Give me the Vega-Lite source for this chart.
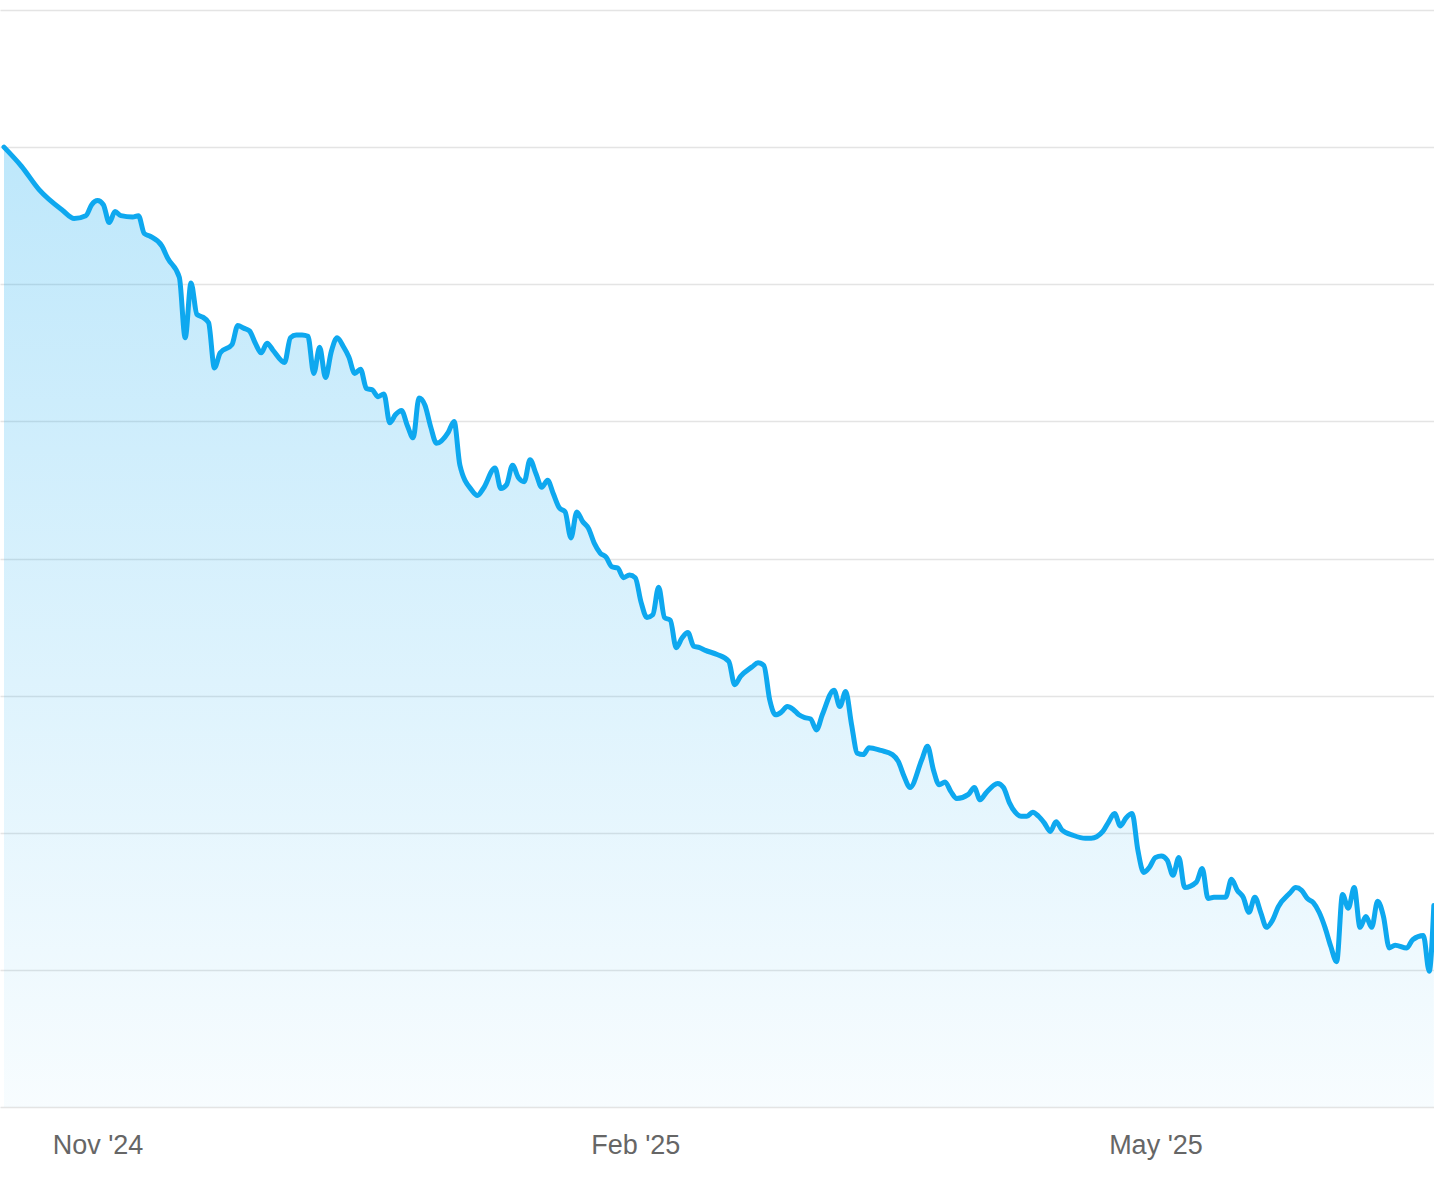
{
  "$schema": "https://vega.github.io/schema/vega-lite/v6.json",
  "width": 1434,
  "height": 1097,
  "autosize": {"type": "none"},
  "padding": {"left": 0, "top": 10, "right": 0, "bottom": 77},
  "background": "white",
  "config": {"view": {"stroke": null}},
  "data": {"values": [
    {"date": "2024-10-16", "value": 7.00},
    {"date": "2024-10-19", "value": 6.86},
    {"date": "2024-10-22", "value": 6.69},
    {"date": "2024-10-26", "value": 6.54},
    {"date": "2024-10-28", "value": 6.48},
    {"date": "2024-10-30", "value": 6.50},
    {"date": "2024-10-31", "value": 6.58},
    {"date": "2024-11-01", "value": 6.61},
    {"date": "2024-11-02", "value": 6.58},
    {"date": "2024-11-03", "value": 6.45},
    {"date": "2024-11-04", "value": 6.53},
    {"date": "2024-11-05", "value": 6.50},
    {"date": "2024-11-07", "value": 6.49},
    {"date": "2024-11-08", "value": 6.50},
    {"date": "2024-11-09", "value": 6.37},
    {"date": "2024-11-10", "value": 6.35},
    {"date": "2024-11-12", "value": 6.28},
    {"date": "2024-11-13", "value": 6.19},
    {"date": "2024-11-15", "value": 6.05},
    {"date": "2024-11-16", "value": 5.61},
    {"date": "2024-11-17", "value": 6.01},
    {"date": "2024-11-18", "value": 5.78},
    {"date": "2024-11-19", "value": 5.76},
    {"date": "2024-11-20", "value": 5.72},
    {"date": "2024-11-21", "value": 5.39},
    {"date": "2024-11-22", "value": 5.50},
    {"date": "2024-11-24", "value": 5.56},
    {"date": "2024-11-25", "value": 5.70},
    {"date": "2024-11-26", "value": 5.68},
    {"date": "2024-11-27", "value": 5.66},
    {"date": "2024-11-28", "value": 5.57},
    {"date": "2024-11-29", "value": 5.50},
    {"date": "2024-11-30", "value": 5.57},
    {"date": "2024-12-01", "value": 5.52},
    {"date": "2024-12-03", "value": 5.43},
    {"date": "2024-12-04", "value": 5.61},
    {"date": "2024-12-05", "value": 5.63},
    {"date": "2024-12-06", "value": 5.63},
    {"date": "2024-12-07", "value": 5.62},
    {"date": "2024-12-08", "value": 5.35},
    {"date": "2024-12-09", "value": 5.54},
    {"date": "2024-12-10", "value": 5.32},
    {"date": "2024-12-11", "value": 5.51},
    {"date": "2024-12-12", "value": 5.61},
    {"date": "2024-12-13", "value": 5.55},
    {"date": "2024-12-14", "value": 5.47},
    {"date": "2024-12-15", "value": 5.35},
    {"date": "2024-12-16", "value": 5.38},
    {"date": "2024-12-17", "value": 5.24},
    {"date": "2024-12-18", "value": 5.23},
    {"date": "2024-12-19", "value": 5.18},
    {"date": "2024-12-20", "value": 5.20},
    {"date": "2024-12-21", "value": 4.99},
    {"date": "2024-12-22", "value": 5.05},
    {"date": "2024-12-23", "value": 5.08},
    {"date": "2024-12-24", "value": 4.97},
    {"date": "2024-12-25", "value": 4.88},
    {"date": "2024-12-26", "value": 5.17},
    {"date": "2024-12-27", "value": 5.12},
    {"date": "2024-12-28", "value": 4.96},
    {"date": "2024-12-29", "value": 4.84},
    {"date": "2024-12-31", "value": 4.92},
    {"date": "2025-01-01", "value": 5.00},
    {"date": "2025-01-02", "value": 4.68},
    {"date": "2025-01-04", "value": 4.50},
    {"date": "2025-01-05", "value": 4.46},
    {"date": "2025-01-06", "value": 4.51},
    {"date": "2025-01-08", "value": 4.66},
    {"date": "2025-01-09", "value": 4.51},
    {"date": "2025-01-10", "value": 4.54},
    {"date": "2025-01-11", "value": 4.68},
    {"date": "2025-01-12", "value": 4.59},
    {"date": "2025-01-13", "value": 4.56},
    {"date": "2025-01-14", "value": 4.72},
    {"date": "2025-01-15", "value": 4.62},
    {"date": "2025-01-16", "value": 4.52},
    {"date": "2025-01-17", "value": 4.57},
    {"date": "2025-01-18", "value": 4.47},
    {"date": "2025-01-19", "value": 4.37},
    {"date": "2025-01-20", "value": 4.34},
    {"date": "2025-01-21", "value": 4.15},
    {"date": "2025-01-22", "value": 4.34},
    {"date": "2025-01-23", "value": 4.27},
    {"date": "2025-01-24", "value": 4.22},
    {"date": "2025-01-25", "value": 4.11},
    {"date": "2025-01-26", "value": 4.04},
    {"date": "2025-01-27", "value": 4.01},
    {"date": "2025-01-28", "value": 3.94},
    {"date": "2025-01-29", "value": 3.93},
    {"date": "2025-01-30", "value": 3.86},
    {"date": "2025-01-31", "value": 3.88},
    {"date": "2025-02-01", "value": 3.86},
    {"date": "2025-02-02", "value": 3.68},
    {"date": "2025-02-03", "value": 3.57},
    {"date": "2025-02-04", "value": 3.59},
    {"date": "2025-02-05", "value": 3.79},
    {"date": "2025-02-06", "value": 3.57},
    {"date": "2025-02-07", "value": 3.55},
    {"date": "2025-02-08", "value": 3.35},
    {"date": "2025-02-09", "value": 3.42},
    {"date": "2025-02-10", "value": 3.46},
    {"date": "2025-02-11", "value": 3.36},
    {"date": "2025-02-12", "value": 3.35},
    {"date": "2025-02-13", "value": 3.33},
    {"date": "2025-02-15", "value": 3.30},
    {"date": "2025-02-17", "value": 3.25},
    {"date": "2025-02-18", "value": 3.08},
    {"date": "2025-02-19", "value": 3.14},
    {"date": "2025-02-21", "value": 3.21},
    {"date": "2025-02-22", "value": 3.24},
    {"date": "2025-02-23", "value": 3.22},
    {"date": "2025-02-24", "value": 2.97},
    {"date": "2025-02-25", "value": 2.86},
    {"date": "2025-02-26", "value": 2.88},
    {"date": "2025-02-27", "value": 2.92},
    {"date": "2025-02-28", "value": 2.90},
    {"date": "2025-03-01", "value": 2.86},
    {"date": "2025-03-02", "value": 2.84},
    {"date": "2025-03-03", "value": 2.83},
    {"date": "2025-03-04", "value": 2.75},
    {"date": "2025-03-05", "value": 2.86},
    {"date": "2025-03-07", "value": 3.04},
    {"date": "2025-03-08", "value": 2.92},
    {"date": "2025-03-09", "value": 3.03},
    {"date": "2025-03-10", "value": 2.79},
    {"date": "2025-03-11", "value": 2.58},
    {"date": "2025-03-12", "value": 2.57},
    {"date": "2025-03-13", "value": 2.62},
    {"date": "2025-03-15", "value": 2.60},
    {"date": "2025-03-17", "value": 2.57},
    {"date": "2025-03-18", "value": 2.52},
    {"date": "2025-03-19", "value": 2.41},
    {"date": "2025-03-20", "value": 2.33},
    {"date": "2025-03-22", "value": 2.53},
    {"date": "2025-03-23", "value": 2.63},
    {"date": "2025-03-24", "value": 2.46},
    {"date": "2025-03-25", "value": 2.35},
    {"date": "2025-03-26", "value": 2.37},
    {"date": "2025-03-27", "value": 2.30},
    {"date": "2025-03-28", "value": 2.25},
    {"date": "2025-03-30", "value": 2.28},
    {"date": "2025-03-31", "value": 2.33},
    {"date": "2025-04-01", "value": 2.24},
    {"date": "2025-04-02", "value": 2.29},
    {"date": "2025-04-04", "value": 2.36},
    {"date": "2025-04-05", "value": 2.33},
    {"date": "2025-04-06", "value": 2.22},
    {"date": "2025-04-07", "value": 2.15},
    {"date": "2025-04-08", "value": 2.12},
    {"date": "2025-04-09", "value": 2.12},
    {"date": "2025-04-10", "value": 2.15},
    {"date": "2025-04-11", "value": 2.12},
    {"date": "2025-04-12", "value": 2.07},
    {"date": "2025-04-13", "value": 2.01},
    {"date": "2025-04-14", "value": 2.08},
    {"date": "2025-04-15", "value": 2.02},
    {"date": "2025-04-17", "value": 1.98},
    {"date": "2025-04-19", "value": 1.96},
    {"date": "2025-04-20", "value": 1.96},
    {"date": "2025-04-22", "value": 2.01},
    {"date": "2025-04-23", "value": 2.08},
    {"date": "2025-04-24", "value": 2.14},
    {"date": "2025-04-25", "value": 2.05},
    {"date": "2025-04-26", "value": 2.11},
    {"date": "2025-04-27", "value": 2.14},
    {"date": "2025-04-28", "value": 1.87},
    {"date": "2025-04-29", "value": 1.71},
    {"date": "2025-04-30", "value": 1.75},
    {"date": "2025-05-01", "value": 1.82},
    {"date": "2025-05-02", "value": 1.83},
    {"date": "2025-05-03", "value": 1.80},
    {"date": "2025-05-04", "value": 1.69},
    {"date": "2025-05-05", "value": 1.82},
    {"date": "2025-05-06", "value": 1.60},
    {"date": "2025-05-08", "value": 1.64},
    {"date": "2025-05-09", "value": 1.74},
    {"date": "2025-05-10", "value": 1.52},
    {"date": "2025-05-11", "value": 1.53},
    {"date": "2025-05-13", "value": 1.53},
    {"date": "2025-05-14", "value": 1.66},
    {"date": "2025-05-15", "value": 1.58},
    {"date": "2025-05-16", "value": 1.53},
    {"date": "2025-05-17", "value": 1.42},
    {"date": "2025-05-18", "value": 1.53},
    {"date": "2025-05-19", "value": 1.42},
    {"date": "2025-05-20", "value": 1.31},
    {"date": "2025-05-21", "value": 1.36},
    {"date": "2025-05-22", "value": 1.46},
    {"date": "2025-05-24", "value": 1.56},
    {"date": "2025-05-25", "value": 1.60},
    {"date": "2025-05-26", "value": 1.58},
    {"date": "2025-05-27", "value": 1.52},
    {"date": "2025-05-28", "value": 1.49},
    {"date": "2025-05-29", "value": 1.42},
    {"date": "2025-05-30", "value": 1.31},
    {"date": "2025-05-31", "value": 1.17},
    {"date": "2025-06-01", "value": 1.06},
    {"date": "2025-06-02", "value": 1.55},
    {"date": "2025-06-03", "value": 1.45},
    {"date": "2025-06-04", "value": 1.60},
    {"date": "2025-06-05", "value": 1.31},
    {"date": "2025-06-06", "value": 1.39},
    {"date": "2025-06-07", "value": 1.31},
    {"date": "2025-06-08", "value": 1.50},
    {"date": "2025-06-09", "value": 1.39},
    {"date": "2025-06-10", "value": 1.16},
    {"date": "2025-06-11", "value": 1.18},
    {"date": "2025-06-13", "value": 1.16},
    {"date": "2025-06-14", "value": 1.22},
    {"date": "2025-06-15T20:00:00Z", "value": 1.25},
    {"date": "2025-06-16T20:00:00Z", "value": 0.99},
    {"date": "2025-06-17T15:00:00Z", "value": 1.47}
  ]},
  "encoding": {
    "x": {
      "field": "date",
      "type": "temporal",
      "scale": {
        "type": "utc",
        "domain": [
          {"year": 2024, "month": 10, "date": 15, "hours": 7, "minutes": 34, "utc": true},
          {"year": 2025, "month": 6, "date": 17, "hours": 15, "minutes": 40, "utc": true}
        ]
      },
      "axis": {
        "values": [
          {"year": 2024, "month": 11, "date": 1, "utc": true},
          {"year": 2025, "month": 2, "date": 1, "utc": true},
          {"year": 2025, "month": 5, "date": 1, "utc": true}
        ],
        "format": "%b '%y",
        "title": null,
        "grid": false,
        "domain": false,
        "ticks": false,
        "tickSize": 0,
        "labelFont": "Liberation Sans",
        "labelFontSize": 27,
        "labelColor": "#666666",
        "labelBaseline": "alphabetic",
        "labelPadding": 46,
        "labelFlush": false,
        "labelOverlap": false
      }
    },
    "y": {
      "field": "value",
      "type": "quantitative",
      "scale": {"domain": [0, 8], "nice": false, "zero": true},
      "axis": {
        "values": [0, 1, 2, 3, 4, 5, 6, 7, 8],
        "title": null,
        "labels": false,
        "ticks": false,
        "domain": false,
        "grid": true,
        "gridColor": "#e4e4e4",
        "gridWidth": 1.6
      }
    }
  },
  "layer": [
    {
      "mark": {
        "type": "area",
        "interpolate": "monotone",
        "color": {
          "gradient": "linear",
          "x1": 0, "y1": 0, "x2": 0, "y2": 1,
          "stops": [
            {"offset": 0, "color": "rgba(14,168,240,0.27)"},
            {"offset": 1, "color": "rgba(14,168,240,0.03)"}
          ]
        }
      }
    },
    {
      "mark": {
        "type": "line",
        "interpolate": "monotone",
        "color": "#0ea8ef",
        "strokeWidth": 5,
        "strokeCap": "round",
        "strokeJoin": "round"
      }
    }
  ]
}
